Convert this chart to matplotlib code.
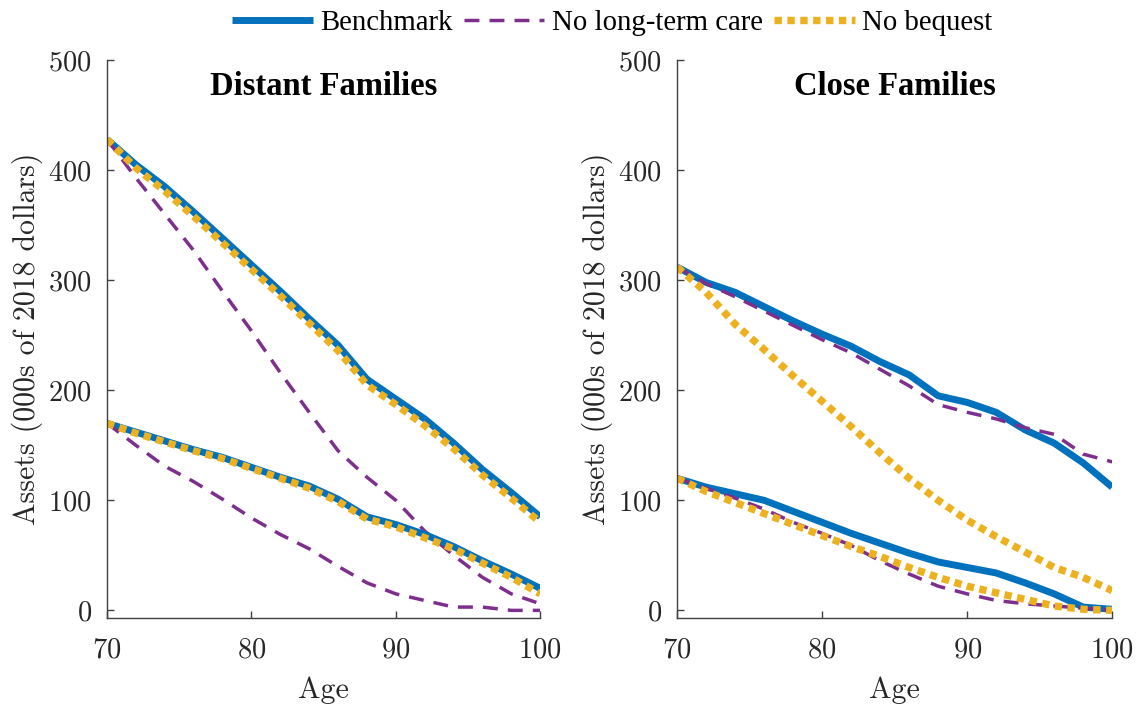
import matplotlib.pyplot as plt

plt.rcParams["font.family"] = ["cmr10", "DejaVu Serif"]
plt.rcParams["axes.formatter.use_mathtext"] = True
plt.rcParams["font.size"] = 20.5

ages = list(range(70, 101, 2))

# Distant families: wealthy (upper) and less wealthy (lower) groups
distant_bench_hi = [428, 405, 385, 362, 338, 314, 290, 265, 241, 210, 192, 174, 152, 128, 107, 85]
distant_noltc_hi = [428, 393, 360, 327, 290, 254, 216, 180, 145, 121, 100, 72, 50, 30, 15, 6]
distant_nobeq_hi = [428, 402, 381, 358, 334, 310, 286, 261, 236, 205, 187, 168, 147, 123, 102, 80]
distant_bench_lo = [170, 162, 154, 146, 139, 130, 121, 113, 101, 85, 78, 69, 58, 45, 33, 20]
distant_noltc_lo = [170, 150, 131, 117, 101, 84, 69, 56, 40, 25, 15, 9, 3, 3, 0, 0]
distant_nobeq_lo = [170, 161, 153, 145, 138, 129, 120, 111, 99, 83, 76, 66, 56, 43, 30, 15]

# Close families
close_bench_hi = [312, 298, 289, 276, 263, 251, 240, 226, 214, 195, 189, 180, 164, 152, 134, 112]
close_noltc_hi = [312, 297, 285, 272, 259, 246, 234, 219, 204, 187, 180, 174, 166, 160, 142, 135]
close_nobeq_hi = [312, 289, 260, 237, 213, 190, 167, 143, 120, 100, 82, 67, 53, 39, 30, 18]
close_bench_lo = [120, 112, 106, 100, 90, 80, 70, 61, 52, 44, 39, 34, 25, 15, 3, 1]
close_noltc_lo = [120, 111, 102, 92, 80, 70, 59, 45, 33, 22, 15, 9, 6, 4, 2, 0]
close_nobeq_lo = [120, 108, 98, 88, 78, 68, 58, 49, 39, 30, 22, 16, 10, 4, 1, 0]

blue = "#0072BD"
purple = "#7E2F8E"
orange = "#EDB120"
axis_color = "#404040"
text_color = "#262626"
times = ["Liberation Serif", "DejaVu Serif"]

fig = plt.figure(figsize=(11.4, 7.08), dpi=100)
ax_l = fig.add_axes([0.0939, 0.127, 0.380, 0.788])
ax_r = fig.add_axes([0.594, 0.127, 0.3816, 0.788])

panels = [
    (ax_l, "Distant Families",
     [(distant_bench_hi, distant_noltc_hi, distant_nobeq_hi),
      (distant_bench_lo, distant_noltc_lo, distant_nobeq_lo)]),
    (ax_r, "Close Families",
     [(close_bench_hi, close_noltc_hi, close_nobeq_hi),
      (close_bench_lo, close_noltc_lo, close_nobeq_lo)]),
]

handles = []
for ax, title, groups in panels:
    for bench, noltc, nobeq in groups:
        h1, = ax.plot(ages, bench, color=blue, lw=5, solid_capstyle="butt",
                      label="Benchmark")
        h2, = ax.plot(ages, noltc, color=purple, lw=2.5, dashes=(4.3, 2.9),
                      dash_capstyle="butt", label="No long-term care")
        h3, = ax.plot(ages, nobeq, color=orange, lw=5.3, dashes=(1, 0.75),
                      dash_capstyle="butt", label="No bequest")
    handles = [h1, h2, h3]

    ax.set_xlim(70, 100)
    ax.set_ylim(-7, 500)
    ax.set_xticks([70, 80, 90, 100])
    ax.set_yticks(range(0, 501, 100))
    ax.spines["top"].set_visible(False)
    ax.spines["right"].set_visible(False)
    for s in ("left", "bottom"):
        ax.spines[s].set_color(axis_color)
        ax.spines[s].set_linewidth(1.0)
    ax.tick_params(direction="in", length=5, width=1, colors=axis_color,
                   labelcolor=text_color, labelsize=20.5)
    ax.tick_params(axis="x", pad=14)
    ax.tick_params(axis="y", pad=11)
    ax.set_xlabel("Age", fontsize=21.5, labelpad=9, color=text_color)
    ax.set_ylabel("Assets (000s of 2018 dollars)", fontsize=21.5, labelpad=4,
                  color=text_color)
    ax.text(0.5, 0.952, title, transform=ax.transAxes, ha="center",
            va="center", fontsize=23.5, fontweight="bold", family=times)

fig.legend(handles, [h.get_label() for h in handles], loc="center",
           bbox_to_anchor=(0.537, 0.968), ncol=3, frameon=False,
           handlelength=2.8, handletextpad=0.25, columnspacing=0.4,
           prop={"family": times, "size": 20.7})

fig.savefig("out.png", dpi=100)
